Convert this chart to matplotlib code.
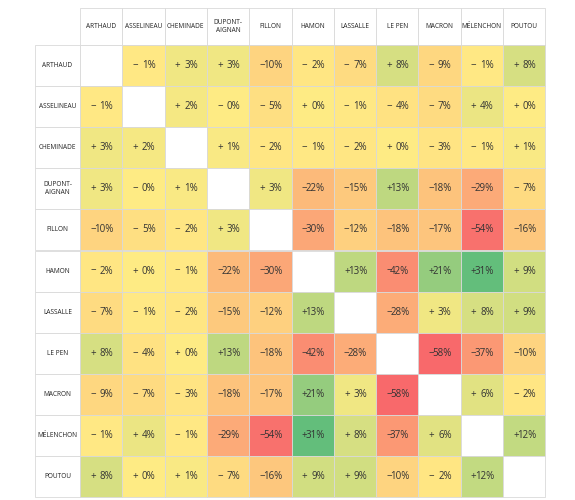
import matplotlib
matplotlib.use("Agg")
import matplotlib.pyplot as plt
from matplotlib.colors import LinearSegmentedColormap, TwoSlopeNorm
from matplotlib.patches import Rectangle
import numpy as np

names = ["ARTHAUD", "ASSELINEAU", "CHEMINADE", "DUPONT-\nAIGNAN", "FILLON", "HAMON",
         "LASSALLE", "LE PEN", "MACRON", "MÉLENCHON", "POUTOU"]
N = None
values = [
    [N, -1, 3, 3, -10, -2, -7, 8, -9, -1, 8],
    [-1, N, 2, -0.0, -5, 0, -1, -4, -7, 4, 0],
    [3, 2, N, 1, -2, -1, -2, 0, -3, -1, 1],
    [3, -0.0, 1, N, 3, -22, -15, 13, -18, -29, -7],
    [-10, -5, -2, 3, N, -30, -12, -18, -17, -54, -16],
    [-2, 0, -1, -22, -30, N, 13, -42, 21, 31, 9],
    [-7, -1, -2, -15, -12, 13, N, -28, 3, 8, 9],
    [8, -4, 0, 13, -18, -42, -28, N, -58, -37, -10],
    [-9, -7, -3, -18, -17, 21, 3, -58, N, 6, -2],
    [-1, 4, -1, -29, -54, 31, 8, -37, 6, N, 12],
    [8, 0, 1, -7, -16, 9, 9, -10, -2, 12, N],
]

cmap = LinearSegmentedColormap.from_list("rg", ["#f8696b", "#ffeb84", "#63be7b"])
norm = TwoSlopeNorm(vmin=-58, vcenter=0, vmax=31)

fig = plt.figure(figsize=(5.75, 5.0), dpi=100)
ax = fig.add_axes([0, 0, 1, 1])
ax.set_xlim(0, 575); ax.set_ylim(500, 0); ax.axis("off")

x0, cw = 80, 42.3
hx0 = 35
y0, hh, rh = 8, 37, 41.1
grid = "#d9d9d9"
n = len(names)
for j, nm in enumerate(names):
    cx = x0 + j * cw
    ax.add_patch(Rectangle((cx, y0), cw, hh, fc="white", ec=grid, lw=0.6))
    ax.text(cx + cw / 2, y0 + hh / 2, nm, ha="center", va="center", fontsize=4.7,
            family="Open Sans", color="#222")
for i, nm in enumerate(names):
    cy = y0 + hh + i * rh
    ax.add_patch(Rectangle((hx0, cy), x0 - hx0, rh, fc="white", ec=grid, lw=0.6))
    ax.text(hx0 + (x0 - hx0) / 2, cy + rh / 2, nm, ha="center", va="center", fontsize=4.7,
            family="Open Sans", color="#222")
    for j in range(n):
        v = values[i][j]
        cx = x0 + j * cw
        if v is None:
            ax.add_patch(Rectangle((cx, cy), cw, rh, fc="white", ec=grid, lw=0.6))
            continue
        ax.add_patch(Rectangle((cx, cy), cw, rh, fc=cmap(norm(v)), ec=grid, lw=0.6))
        neg = v < 0 or (v == 0 and np.signbit(v))
        sign = "−" if neg else "+"
        ax.text(cx + 13, cy + rh / 2, sign, ha="center", va="center", fontsize=7,
                family="Open Sans", color="#333")
        ax.text(cx + cw - 9, cy + rh / 2, f"{abs(int(v))}%", ha="right", va="center",
                fontsize=7, family="Open Sans", color="#333")

fig.savefig("out.png", dpi=100, facecolor="white")
